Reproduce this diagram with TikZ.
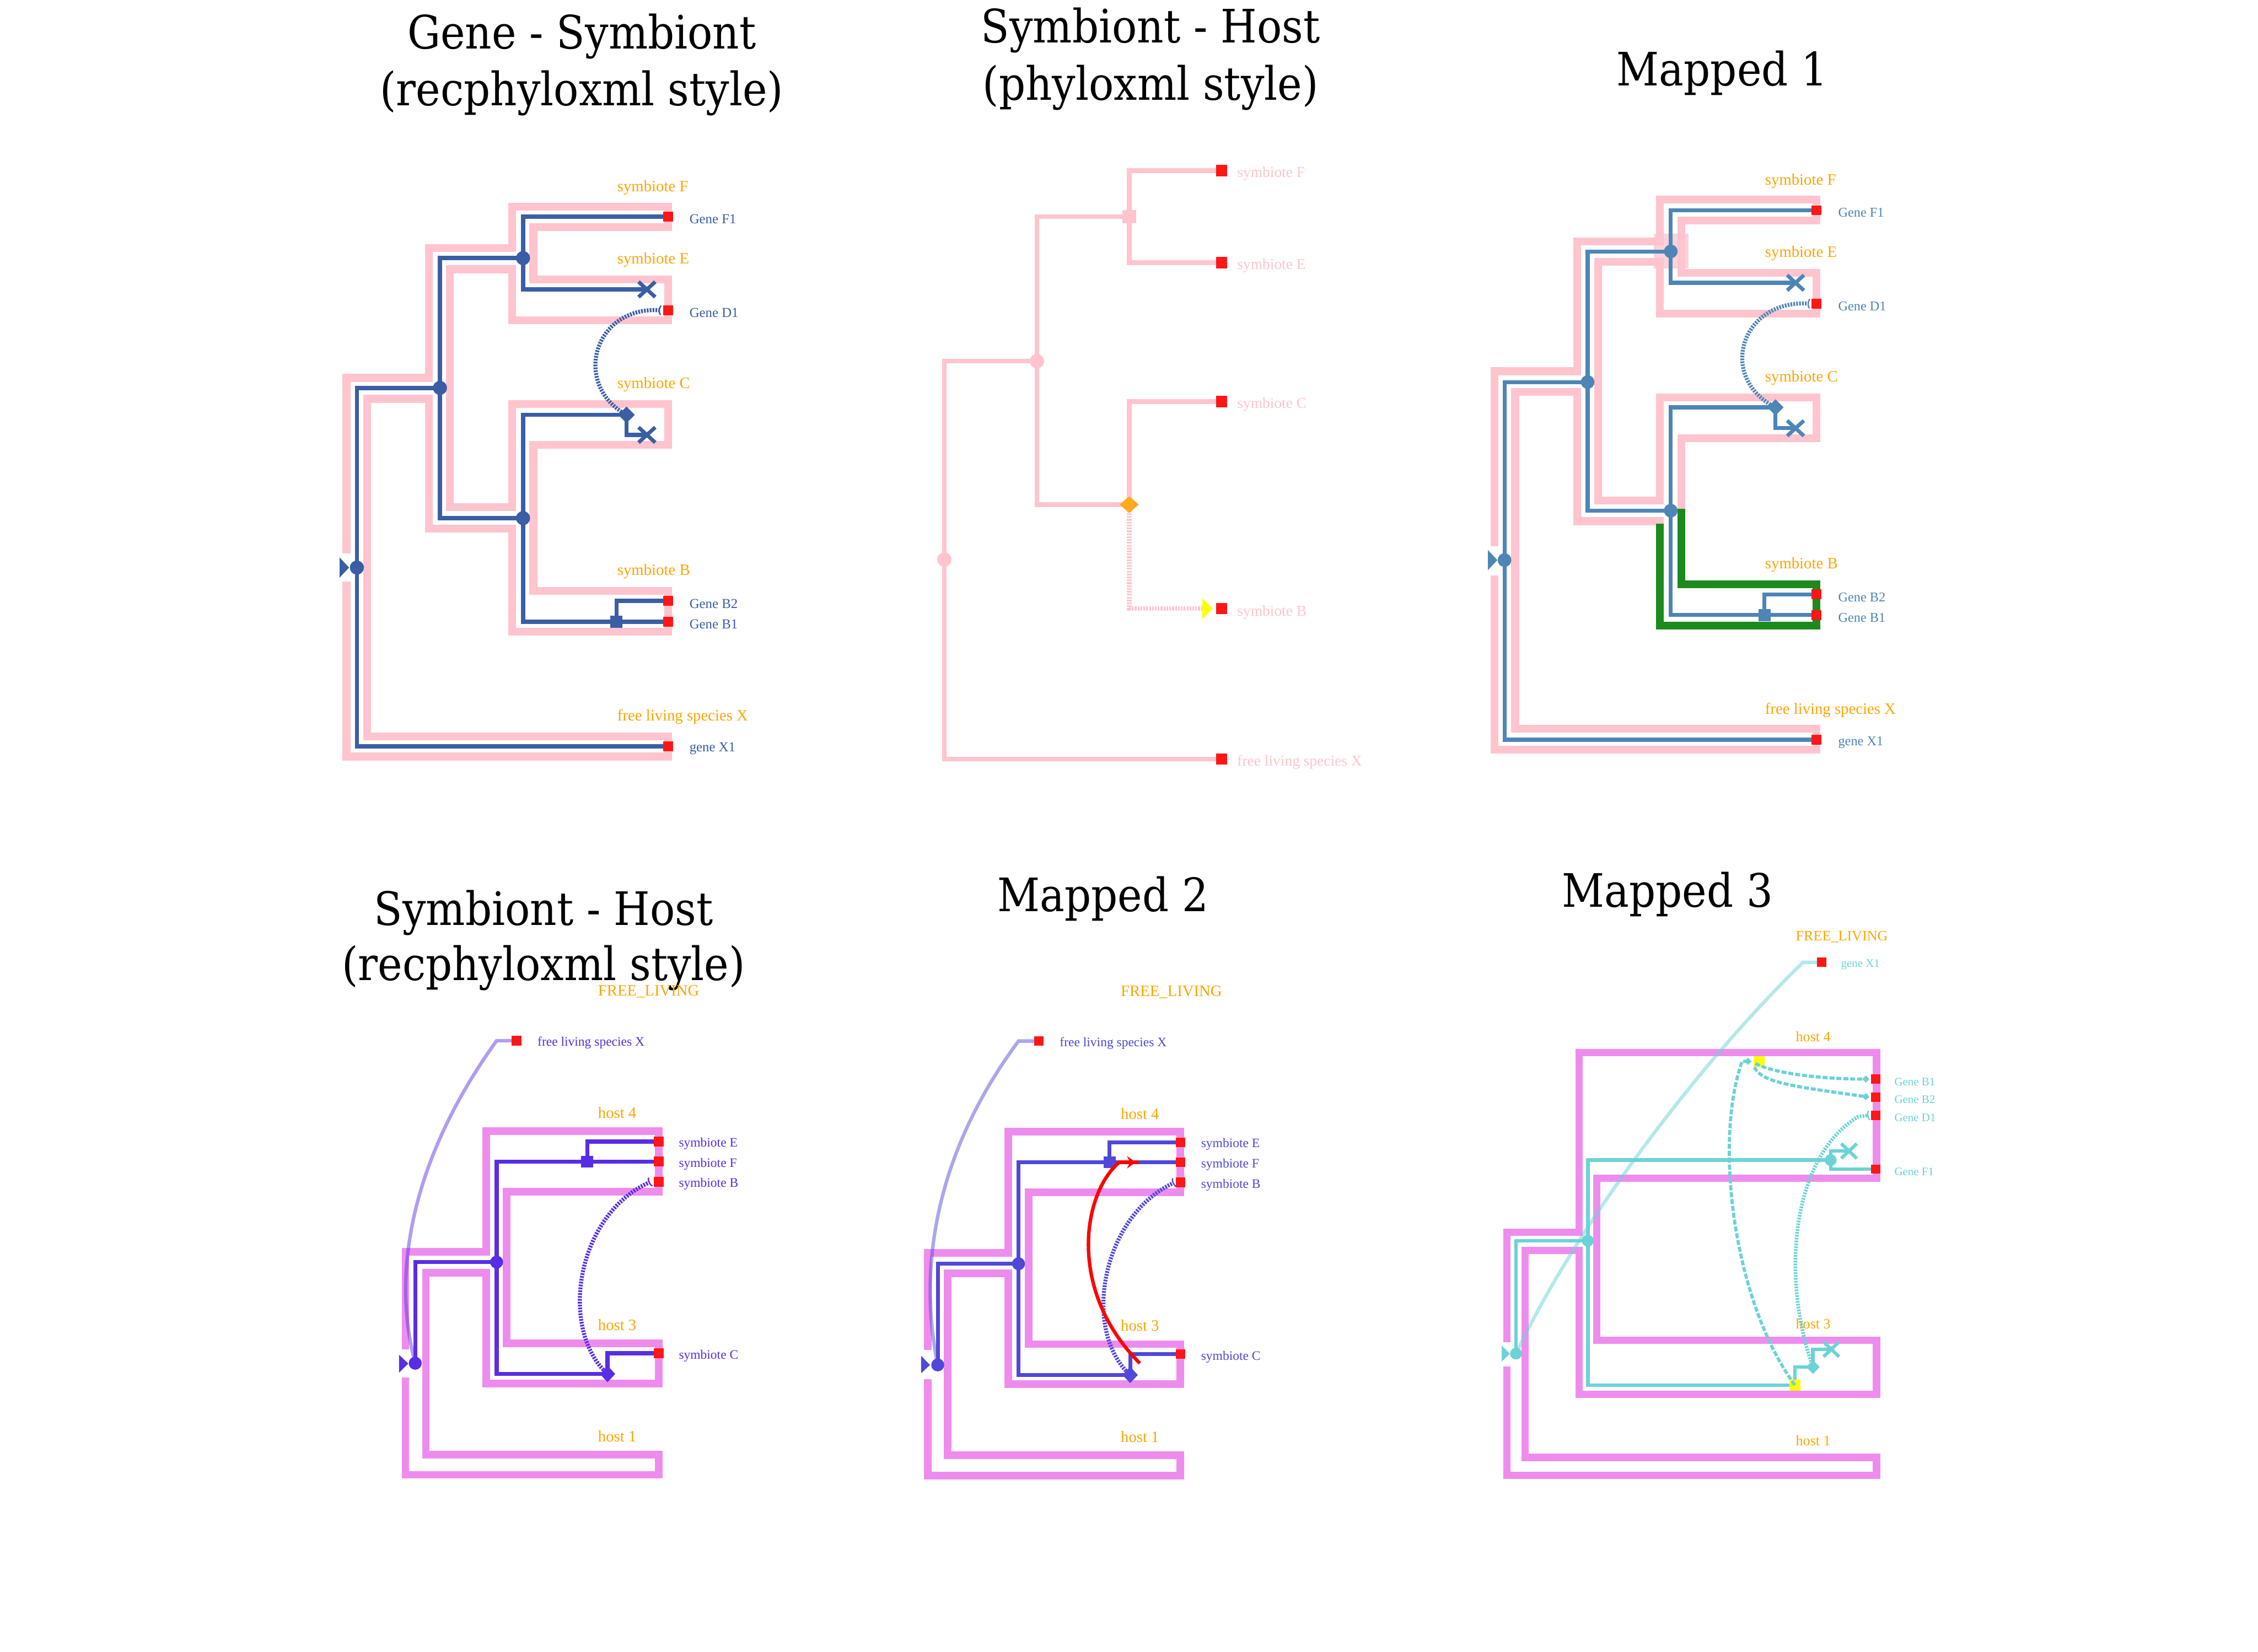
\documentclass[tikz,border=0pt]{standalone}
\usepackage{fontspec}
\usetikzlibrary{shapes.geometric,shapes.misc,arrows.meta}
\newfontfamily\labf{Liberation Serif}
\newfontfamily\ttlf{DejaVu Serif}[FakeStretch=0.9]
\definecolor{tpink}{RGB}{255,196,206}
\definecolor{tviolet}{RGB}{238,140,238}
\definecolor{grn}{RGB}{28,138,28}
\definecolor{orng}{RGB}{255,165,0}
\definecolor{lred}{RGB}{255,22,22}
\definecolor{yel}{RGB}{255,255,0}
\definecolor{dorange}{RGB}{255,170,30}
\definecolor{pa}{RGB}{58,94,164}
\definecolor{pc}{RGB}{77,133,183}
\definecolor{pd}{RGB}{88,45,230}
\definecolor{pe}{RGB}{80,72,216}
\definecolor{pf}{RGB}{107,211,214}
\tikzset{
  ptube/.style={draw=tpink, line width=5.5pt, line join=miter},
  vtube/.style={draw=tviolet, line width=5.3pt, line join=miter},
  gtube/.style={draw=grn, line width=5.6pt, line join=miter},
  gl/.style={line width=#1, line join=miter},
  gdot/.style={circle, inner sep=0pt, minimum size=#1},
  gsq/.style={rectangle, inner sep=0pt, minimum size=#1},
  gdia/.style={diamond, inner sep=0pt, minimum width=#1, minimum height=#1},
  gcross/.style={cross out, draw, inner sep=0pt, minimum width=9pt, minimum height=8pt, line width=2.6pt},
  gleaf/.style={rectangle, fill=lred, inner sep=0pt, minimum size=#1},
  dotl/.style={line width=2.8pt, dash pattern=on 1.2pt off 0.8pt},
  dashl/.style={line width=2.2pt, dash pattern=on 3.5pt off 1.3pt},
  ttl/.style={font=\ttlf\fontsize{32}{38}\selectfont, anchor=base, inner sep=0pt},
  lab/.style={anchor=west, inner sep=0pt, font=\labf\fontsize{#1}{#1}\selectfont},
  endarc/.style={-{Arc Barb[reversed, length=1.6pt, width=7pt, line width=0.9pt]}},
}
\begin{document}
\begin{tikzpicture}[x=1pt,y=-1pt]
\useasboundingbox (0,0) rectangle (1568,1147);
\fill[white] (0,0) rectangle (1568,1147);

% ---------------- titles
\node[ttl] (t1a) at (404,33.7) {Gene - Symbiont};
\node[ttl] (t1b) at (404,73.4) {(recphyloxml style)};
\node[ttl] (t2a) at (799,29.7) {Symbiont - Host};
\node[ttl] (t2b) at (799,69.5) {(phyloxml style)};
\node[ttl] (t3) at (1196,59.5) {Mapped 1};
\node[ttl] (t4a) at (377.5,642.5) {Symbiont - Host};
\node[ttl] (t4b) at (377.5,681) {(recphyloxml style)};
\node[ttl] (t5) at (766,633) {Mapped 2};
\node[ttl] (t6) at (1158,630) {Mapped 3};

% ================= Panel 1 : Gene - Symbiont
\begin{scope}[shift={(220.61pt,-98.3pt)},x=0.21771pt,y=-0.27911pt]
\draw[ptube] (92,1025) -- (92,588) -- (355,588) -- (355,265) -- (620,265) -- (620,162) -- (1118,162) -- (1118,213) -- (688,213) -- (688,343) -- (1118,343) -- (1118,445) -- (620,445) -- (620,318) -- (422,318) -- (422,910) -- (620,910) -- (620,653) -- (1118,653) -- (1118,755) -- (688,755) -- (688,1118) -- (1118,1118) -- (1118,1220) -- (620,1220) -- (620,963) -- (355,963) -- (355,640) -- (158,640) -- (158,1480) -- (1118,1480) -- (1118,1530) -- (92,1530) -- (92,1095);
\coordinate (p1r) at (125,1060);
\coordinate (p1a) at (390,613);
\coordinate (p1b) at (655,290);
\coordinate (p1c) at (655,937);
\coordinate (p1d) at (985,680);
\coordinate (p1s) at (953,1195);
\coordinate (p1lE) at (1050,368);
\coordinate (p1lC) at (1050,730);
\coordinate (p1F1) at (1118,187);
\coordinate (p1D1) at (1118,420);
\coordinate (p1B2) at (1118,1143);
\coordinate (p1B1) at (1118,1195);
\coordinate (p1X1) at (1118,1505);
\begin{scope}[draw=pa, gl=2.9pt]
\draw (p1a) -| (p1r) |- (p1X1);
\draw (p1b) -| (p1a) |- (p1c);
\draw (p1F1) -| (p1b) |- (p1lE);
\draw (p1d) -| (p1c) |- (p1B1);
\draw (p1d) |- (p1lC);
\draw (p1s) |- (p1B2);
\end{scope}
\draw[pa, dotl, endarc] (p1d) .. controls (810,605) and (880,410) .. (1095,420);
\fill[pa] (70,1035) -- (100,1060) -- (70,1085) -- cycle;
\foreach \n in {p1r,p1a,p1b,p1c} \node[gdot=9.8pt, fill=pa] at (\n) {};
\node[gdia=11.6pt, fill=pa] at (p1d) {};
\node[gsq=8.5pt, fill=pa] at (p1s) {};
\node[gcross, draw=pa] at (p1lE) {};
\node[gcross, draw=pa] at (p1lC) {};
\foreach \n in {p1F1,p1D1,p1B2,p1B1,p1X1} \node[gleaf=6.7pt] at (\n) {};
\node[lab=11, text=orng] (p1sF) at (955,115) {symbiote F};
\node[lab=11, text=orng] (p1sE) at (955,295) {symbiote E};
\node[lab=11, text=orng] (p1sC) at (955,605) {symbiote C};
\node[lab=11, text=orng] (p1sB) at (955,1070) {symbiote B};
\node[lab=11, text=orng] (p1sX) at (955,1432) {free living species X};
\node[lab=9.5, text=pa] (p1gF1) at (1185,193) {Gene F1};
\node[lab=9.5, text=pa] (p1gD1) at (1185,426) {Gene D1};
\node[lab=9.5, text=pa] (p1gB2) at (1185,1150) {Gene B2};
\node[lab=9.5, text=pa] (p1gB1) at (1185,1201) {Gene B1};
\node[lab=9.5, text=pa] (p1gX1) at (1185,1511) {gene X1};
\end{scope}

% ================= Panel 2 : Symbiont - Host (phyloxml)
\begin{scope}[shift={(629.9pt,-98.69pt)},x=0.21213pt,y=-0.28283pt]
\coordinate (p2r) at (122,1025);
\coordinate (p2a) at (425,538);
\coordinate (p2b) at (727,183);
\coordinate (p2c) at (727,890);
\coordinate (p2F) at (1030,70);
\coordinate (p2E) at (1030,296);
\coordinate (p2C) at (1030,637);
\coordinate (p2B) at (1030,1145);
\coordinate (p2X) at (1030,1515);
\coordinate (p2t) at (966,1145);
\begin{scope}[draw=tpink, gl=3.2pt]
\draw (p2a) -| (p2r) |- (p2X);
\draw (p2b) -| (p2a) |- (p2c);
\draw (p2F) -| (p2b) |- (p2E);
\draw (p2c) |- (p2C);
\end{scope}
\draw[tpink, line width=3.2pt, dash pattern=on 1.2pt off 0.8pt] (p2c) |- (p2t);
\fill[yel] (966,1120) -- (1000,1145) -- (966,1172) -- cycle;
\node[gdot=10pt, fill=tpink] at (p2r) {};
\node[gdot=10pt, fill=tpink] at (p2a) {};
\node[gsq=9.4pt, fill=tpink] at (p2b) {};
\node[diamond, inner sep=0pt, minimum width=13.4pt, minimum height=11.8pt, fill=dorange] at (p2c) {};
\foreach \n in {p2F,p2E,p2C,p2B,p2X} \node[gleaf=7.8pt] at (\n) {};
\node[lab=10.5, text=tpink] (p2lF) at (1080,78) {symbiote F};
\node[lab=10.5, text=tpink] (p2lE) at (1080,303) {symbiote E};
\node[lab=10.5, text=tpink] (p2lC) at (1080,645) {symbiote C};
\node[lab=10.5, text=tpink] (p2lB) at (1080,1155) {symbiote B};
\node[lab=10.5, text=tpink] (p2lX) at (1080,1522) {free living species X};
\end{scope}

% ================= Panel 3 : Mapped 1
\begin{scope}[shift={(1018.87pt,-98.69pt)},x=0.19910pt,y=-0.27911pt]
\draw[ptube] (95,1005) -- (95,570) -- (383,570) -- (383,247) -- (672,247) -- (672,143) -- (1218,143) -- (1218,195) -- (747,195) -- (747,325) -- (1218,325) -- (1218,427) -- (672,427) -- (672,298) -- (457,298) -- (457,892) -- (672,892) -- (672,635) -- (1218,635) -- (1218,737) -- (747,737) -- (747,1100) -- (1218,1100) -- (1218,1203) -- (672,1203) -- (672,943) -- (383,943) -- (383,622) -- (167,622) -- (167,1460) -- (1218,1460) -- (1218,1512) -- (95,1512) -- (95,1078);
\fill[tpink, opacity=0.75] (650,228) rectangle (772,315);
\draw[gtube] (672,950) -- (672,1203) -- (1218,1203) -- (1218,1100) -- (747,1100) -- (747,913);
\coordinate (p3r) at (130,1040);
\coordinate (p3a) at (420,597);
\coordinate (p3b) at (710,272);
\coordinate (p3c) at (710,917);
\coordinate (p3d) at (1075,660);
\coordinate (p3s) at (1037,1177);
\coordinate (p3lE) at (1145,350);
\coordinate (p3lC) at (1145,712);
\coordinate (p3F1) at (1218,170);
\coordinate (p3D1) at (1218,402);
\coordinate (p3B2) at (1218,1125);
\coordinate (p3B1) at (1218,1177);
\coordinate (p3X1) at (1218,1487);
\begin{scope}[draw=pc, gl=2.7pt]
\draw (p3a) -| (p3r) |- (p3X1);
\draw (p3b) -| (p3a) |- (p3c);
\draw (p3F1) -| (p3b) |- (p3lE);
\draw (p3d) -| (p3c) |- (p3B1);
\draw (p3d) |- (p3lC);
\draw (p3s) |- (p3B2);
\end{scope}
\draw[pc, dotl, endarc] (p3d) .. controls (870,585) and (955,392) .. (1195,402);
\fill[pc] (72,1015) -- (105,1040) -- (72,1065) -- cycle;
\foreach \n in {p3r,p3a,p3b,p3c} \node[gdot=9.5pt, fill=pc] at (\n) {};
\node[gdia=11.4pt, fill=pc] at (p3d) {};
\node[gsq=8.5pt, fill=pc] at (p3s) {};
\node[gcross, draw=pc] at (p3lE) {};
\node[gcross, draw=pc] at (p3lC) {};
\foreach \n in {p3F1,p3D1,p3B2,p3B1,p3X1} \node[gleaf=6.7pt] at (\n) {};
\node[lab=11, text=orng] (p3sF) at (1038,97) {symbiote F};
\node[lab=11, text=orng] (p3sE) at (1038,277) {symbiote E};
\node[lab=11, text=orng] (p3sC) at (1038,587) {symbiote C};
\node[lab=11, text=orng] (p3sB) at (1038,1052) {symbiote B};
\node[lab=11, text=orng] (p3sX) at (1038,1413) {free living species X};
\node[lab=9.3, text=pc] (p3gF1) at (1293,175) {Gene F1};
\node[lab=9.3, text=pc] (p3gD1) at (1293,408) {Gene D1};
\node[lab=9.3, text=pc] (p3gB2) at (1293,1132) {Gene B2};
\node[lab=9.3, text=pc] (p3gB1) at (1293,1184) {Gene B1};
\node[lab=9.3, text=pc] (p3gX1) at (1293,1494) {gene X1};
\end{scope}

% ================= Panel 4 : Symbiont - Host (recphyloxml)
\begin{scope}[shift={(229.32pt,-667.63pt)},x=0.19352pt,y=-0.23259pt]
\draw[vtube] (270,1158) -- (270,868) -- (560,868) -- (560,507) -- (1178,507) -- (1178,688) -- (633,688) -- (633,1140) -- (1178,1140) -- (1178,1260) -- (560,1260) -- (560,930) -- (343,930) -- (343,1473) -- (1178,1473) -- (1178,1533) -- (270,1533) -- (270,1243);
\coordinate (p4r) at (305,1200);
\coordinate (p4a) at (597,898);
\coordinate (p4s) at (922,598);
\coordinate (p4d) at (995,1232);
\coordinate (p4E) at (1178,538);
\coordinate (p4F) at (1178,598);
\coordinate (p4B) at (1178,658);
\coordinate (p4C) at (1178,1170);
\coordinate (p4X) at (668,237);
\coordinate (p4k) at (597,237);
\begin{scope}[draw=pd, gl=2.8pt]
\draw (p4a) -| (p4r);
\draw (p4F) -| (p4a) |- (p4d);
\draw (p4s) |- (p4E);
\draw (p4d) |- (p4C);
\end{scope}
\draw[pd, opacity=0.47, line width=2.4pt] (p4r) .. controls (215,920) and (300,580) .. (p4k) -- (p4X);
\draw[pd, dotl, endarc] (p4d) .. controls (820,1100) and (880,760) .. (1150,658);
\fill[pd] (247,1175) -- (280,1201) -- (247,1228) -- cycle;
\node[gdot=9pt, fill=pd] at (p4r) {};
\node[gdot=9pt, fill=pd] at (p4a) {};
\node[gsq=8.2pt, fill=pd] at (p4s) {};
\node[diamond, inner sep=0pt, minimum width=10.8pt, minimum height=11.6pt, fill=pd] at (p4d) {};
\foreach \n in {p4E,p4F,p4B,p4C,p4X} \node[gleaf=6.9pt] at (\n) {};
\node[lab=9, text=pd] (p4lE) at (1250,545) {symbiote E};
\node[lab=9, text=pd] (p4lF) at (1250,605) {symbiote F};
\node[lab=9, text=pd] (p4lB) at (1250,665) {symbiote B};
\node[lab=9, text=pd] (p4lC) at (1250,1178) {symbiote C};
\node[lab=9, text=pd] (p4lX) at (743,243) {free living species X};
\node[lab=11, text=orng] (p4hF) at (960,90) {FREE\_LIVING};
\node[lab=11, text=orng] (p4h4) at (960,452) {host 4};
\node[lab=11, text=orng] (p4h3) at (960,1085) {host 3};
\node[lab=11, text=orng] (p4h1) at (960,1418) {host 1};
\end{scope}

% ================= Panel 5 : Mapped 2
\begin{scope}[shift={(629.9pt,-667.63pt)},x=0.16747pt,y=-0.23259pt]
\draw[vtube] (85,1160) -- (85,870) -- (420,870) -- (420,508) -- (1133,508) -- (1133,690) -- (505,690) -- (505,1143) -- (1133,1143) -- (1133,1263) -- (420,1263) -- (420,932) -- (168,932) -- (168,1475) -- (1133,1475) -- (1133,1535) -- (85,1535) -- (85,1248);
\coordinate (p5r) at (127,1205);
\coordinate (p5a) at (462,903);
\coordinate (p5s) at (840,600);
\coordinate (p5d) at (925,1235);
\coordinate (p5E) at (1133,540);
\coordinate (p5F) at (1133,600);
\coordinate (p5B) at (1133,660);
\coordinate (p5C) at (1133,1173);
\coordinate (p5X) at (547,238);
\coordinate (p5k) at (462,238);
\begin{scope}[draw=pe, gl=2.7pt]
\draw (p5a) -| (p5r);
\draw (p5F) -| (p5a) |- (p5d);
\draw (p5s) |- (p5E);
\draw (p5d) |- (p5C);
\end{scope}
\draw[pe, opacity=0.48, line width=2.4pt] (p5r) .. controls (40,900) and (130,560) .. (p5k) -- (p5X);
\draw[pe, dotl, endarc] (p5d) .. controls (720,1100) and (810,760) .. (1110,660);
\fill[pe] (58,1178) -- (95,1205) -- (58,1230) -- cycle;
\node[gdot=9pt, fill=pe] at (p5r) {};
\node[gdot=9pt, fill=pe] at (p5a) {};
\node[gsq=8.2pt, fill=pe] at (p5s) {};
\node[diamond, inner sep=0pt, minimum width=10.8pt, minimum height=11.6pt, fill=pe] at (p5d) {};
\coordinate (p5q0) at (965,1200);
\coordinate (p5q1) at (880,600);
\coordinate (p5q2) at (948,600);
\coordinate (p5q3) at (960,600);
\draw[red, line width=2.4pt] (p5q0) .. controls (660,980) and (730,690) .. (p5q1) -- (p5q3);
\draw[red, line width=2.4pt, -{Stealth[length=6pt, width=8.5pt, inset=2pt]}] (p5q1) -- (p5q2);
\foreach \n in {p5E,p5F,p5B,p5C,p5X} \node[gleaf=6.6pt] at (\n) {};
\node[lab=9, text=pe] (p5lE) at (1218,547) {symbiote E};
\node[lab=9, text=pe] (p5lF) at (1218,607) {symbiote F};
\node[lab=9, text=pe] (p5lB) at (1218,668) {symbiote B};
\node[lab=9, text=pe] (p5lC) at (1218,1181) {symbiote C};
\node[lab=9, text=pe] (p5lX) at (632,245) {free living species X};
\node[lab=11, text=orng] (p5hF) at (885,92) {FREE\_LIVING};
\node[lab=11, text=orng] (p5h4) at (885,455) {host 4};
\node[lab=11, text=orng] (p5h3) at (885,1088) {host 3};
\node[lab=11, text=orng] (p5h1) at (885,1420) {host 1};
\end{scope}

% ================= Panel 6 : Mapped 3
\begin{scope}[shift={(1030.48pt,-638.61pt)},x=0.21213pt,y=-0.25120pt]
\draw[vtube, line width=5pt] (75,1168) -- (75,865) -- (312,865) -- (312,367) -- (1285,367) -- (1285,715) -- (370,715) -- (370,1163) -- (1285,1163) -- (1285,1312) -- (312,1312) -- (312,915) -- (135,915) -- (135,1487) -- (1285,1487) -- (1285,1537) -- (75,1537) -- (75,1235);
\coordinate (p6r) at (105,1200);
\coordinate (p6a) at (340,888);
\coordinate (p6b) at (1135,665);
\coordinate (p6y1) at (1018,1287);
\coordinate (p6d) at (1077,1237);
\coordinate (p6y2) at (900,392);
\coordinate (p6lF) at (1195,640);
\coordinate (p6lC) at (1137,1188);
\coordinate (p6X) at (1105,118);
\coordinate (p6k) at (1045,118);
\coordinate (p6B1) at (1283,441);
\coordinate (p6B2) at (1283,491);
\coordinate (p6D1) at (1283,541);
\coordinate (p6F1) at (1283,690);
\draw[pf, opacity=0.5, line width=2.4pt] (p6r) .. controls (300,850) and (700,400) .. (p6k) -- (p6X);
\begin{scope}[draw=pf, gl=2.5pt]
\draw (p6a) -| (p6r);
\draw (p6b) -| (p6a) |- (p6y1);
\draw (p6lF) -| (p6b) |- (p6F1);
\draw (p6y1) |- (p6d);
\draw (p6d) |- (p6lC);
\end{scope}
\node[gsq=7.6pt, fill=yel] at (p6y1) {};
\node[gsq=7.6pt, fill=yel] at (p6y2) {};
\draw[pf, dashl, -{Diamond[length=5pt, width=5pt]}] (p6y1) .. controls (820,1060) and (750,620) .. (845,392) -- (876,392);
\draw[pf, dashl, -{Diamond[length=5pt, width=5pt]}] (888,398) .. controls (950,425) and (1100,441) .. (1262,441);
\draw[pf, dashl, -{Diamond[length=5pt, width=5pt]}] (885,408) .. controls (910,450) and (1000,460) .. (1262,491);
\draw[pf, line width=2.5pt, dash pattern=on 1.2pt off 0.8pt, endarc] (p6d) .. controls (975,1000) and (1000,660) .. (1225,545) -- (1262,541);
\fill[pf] (58,1178) -- (85,1200) -- (58,1222) -- cycle;
\node[gdot=8.2pt, fill=pf] at (p6r) {};
\node[gdot=8.2pt, fill=pf] at (p6a) {};
\node[gdot=8.2pt, fill=pf] at (p6b) {};
\node[diamond, inner sep=0pt, minimum width=9.5pt, minimum height=9.8pt, fill=pf] at (p6d) {};
\node[gcross, draw=pf, line width=2.3pt, minimum width=8.5pt] at (p6lF) {};
\node[gcross, draw=pf, line width=2.3pt, minimum width=8.5pt] at (p6lC) {};
\foreach \n in {p6X,p6B1,p6B2,p6D1,p6F1} \node[gleaf=6.5pt] at (\n) {};
\node[lab=8, text=pf] (p6gX) at (1168,125) {gene X1};
\node[lab=8, text=pf] (p6gB1) at (1343,448) {Gene B1};
\node[lab=8, text=pf] (p6gB2) at (1343,498) {Gene B2};
\node[lab=8, text=pf] (p6gD1) at (1343,548) {Gene D1};
\node[lab=8, text=pf] (p6gF1) at (1343,697) {Gene F1};
\node[lab=10, text=orng] (p6hF) at (1020,48) {FREE\_LIVING};
\node[lab=10, text=orng] (p6h4) at (1020,323) {host 4};
\node[lab=10, text=orng] (p6h3) at (1020,1118) {host 3};
\node[lab=10, text=orng] (p6h1) at (1020,1441) {host 1};
\end{scope}
\end{tikzpicture}
\end{document}
